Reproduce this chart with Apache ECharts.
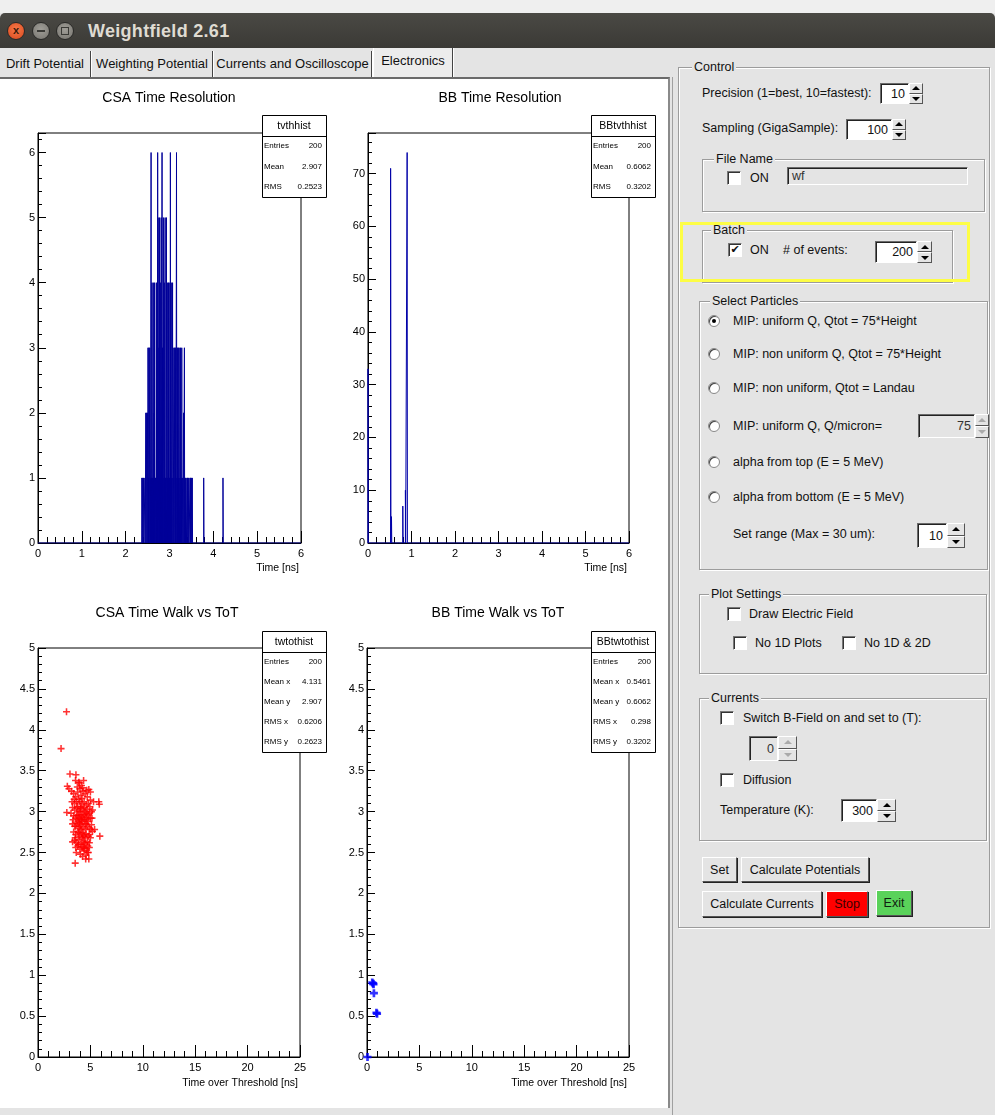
<!DOCTYPE html>
<html>
<head>
<meta charset="utf-8">
<title>Weightfield 2.61</title>
<script src="https://cdn.jsdelivr.net/npm/echarts@6/dist/echarts.min.js"></script>
<style>
  body { margin: 0; width: 995px; height: 1115px; position: relative; overflow: hidden;
         background: #e4e4e4; font-family: "Liberation Sans", Arial, sans-serif; font-size: 12.5px; color: #111; }
  div { box-sizing: border-box; }
  .abs { position: absolute; }
  .lbl { position: absolute; white-space: nowrap; line-height: 16px; height: 16px; }
  .grp { position: absolute; border: 1px solid #9c9c9c; box-shadow: inset 1px 1px 0 #fff, 1px 1px 0 #fff; }
  .leg { position: absolute; white-space: nowrap; line-height: 16px; height: 16px; background: #e4e4e4; padding: 0 2px; }
  .ent { position: absolute; background: #fff; border: 1px solid; border-color: #6a6a6a #fff #fff #6a6a6a;
         box-shadow: inset 1px 1px 0 #222; display: flex; align-items: center; justify-content: flex-end; padding-right: 3px; }
  .ent.off { background: #e4e4e4; color: #333; }
  .arr { position: absolute; }
  .arr div { position: absolute; left: 0; width: 100%; height: 50%; border: 1px solid; border-color: #fff #555 #555 #fff; background: #e4e4e4; }
  .arr .up { top: 0; } .arr .dn { top: 50%; }
  .arr .up::after, .arr .dn::after { content: ''; position: absolute; left: 50%; top: 50%; margin-left: -4px; margin-top: -2px;
         border-left: 4px solid transparent; border-right: 4px solid transparent; }
  .arr .up::after { border-bottom: 4px solid #000; }
  .arr .dn::after { border-top: 4px solid #000; }
  .arr.off .up::after { border-bottom-color: #aaa; }
  .arr.off .dn::after { border-top-color: #aaa; }
  .cb { position: absolute; width: 14px; height: 14px; background: #fff; border: 1px solid; border-color: #777 #fff #fff #777;
        box-shadow: inset 1px 1px 0 #333; font-family: "DejaVu Sans"; font-size: 11px; line-height: 12px; text-align: center; }
  .rd { position: absolute; width: 12px; height: 12px; border-radius: 50%; background: #fff; border: 1px solid #888; box-shadow: inset 1px 1px 0 #444; }
  .rd .dot { position: absolute; left: 3px; top: 3px; width: 4px; height: 4px; border-radius: 50%; background: #000; }
  .btn { position: absolute; border: 1px solid; border-color: #fff #555 #555 #fff; box-shadow: 1px 1px 0 #222; background: #e4e4e4;
         display: flex; align-items: center; justify-content: center; white-space: nowrap; }
  .tab { position: absolute; top: 51px; height: 26px; border-right: 1px solid #444; box-shadow: 1px 0 0 #fff;
         font-size: 13px; line-height: 26px; text-align: center; white-space: nowrap; }
  .tab.sel { top: 48px; height: 30px; background: #ececec; border-left: 1px solid #fff; line-height: 26px; }
</style>
</head>
<body>
<div class="abs" style="left:0;top:0;width:995px;height:13px;background:#efefef"></div>
<div class="abs" style="left:0;top:13px;width:995px;height:35px;background:linear-gradient(#4a4944,#3b3a36);border-radius:5px 5px 0 0"></div>
<div class="abs" style="left:7px;top:22px;width:18px;height:18px;border-radius:50%;background:radial-gradient(circle at 50% 40%,#f77a4a,#d9481d);border:1px solid #2a2a28;color:#3a1a0a;font-size:11px;line-height:15px;text-align:center;font-weight:bold">x</div>
<div class="abs" style="left:32px;top:22px;width:18px;height:18px;border-radius:50%;background:radial-gradient(circle at 50% 40%,#a09e98,#76746e);border:1px solid #2a2a28"></div>
<div class="abs" style="left:37px;top:30px;width:8px;height:2px;background:#3a3a36"></div>
<div class="abs" style="left:56px;top:22px;width:18px;height:18px;border-radius:50%;background:radial-gradient(circle at 50% 40%,#a09e98,#76746e);border:1px solid #2a2a28"></div>
<div class="abs" style="left:61px;top:27px;width:8px;height:8px;border:1px solid #3a3a36"></div>
<div class="lbl" style="left:88px;top:20px;height:22px;line-height:22px;font-weight:bold;font-size:18px;letter-spacing:0.3px;color:#dfdbd2">Weightfield 2.61</div>

<div class="tab" style="left:0;width:91px">Drift Potential</div>
<div class="tab" style="left:92px;width:121px">Weighting Potential</div>
<div class="tab" style="left:214px;width:158px">Currents and Oscilloscope</div>
<div class="tab sel" style="left:373px;width:80px">Electronics</div>

<div class="abs" style="left:0;top:77px;width:670px;height:1031px;background:#fff;border-top:2px solid #6a6a6a;border-right:2px solid #8a8a8a"></div>
<div class="abs" style="left:672px;top:77px;width:1px;height:1038px;background:#a0a0a0"></div>
<div id="plots" class="abs" style="left:0;top:0;width:668px;height:1108px"></div>

<script>
// ---- chart data ----
const FONT = '"Liberation Sans", Arial, sans-serif'
const spikeWidth = 0.006   // histogram bin width; times are sampled every 0.01 ns

// CSA time resolution: filled bins (time in ns, entries)
const csaTimes = [2.37, 2.39, 2.41, 2.44, 2.46, 2.48, 2.50, 2.51, 2.52, 2.53, 2.55, 2.56,
                  2.58, 2.59, 2.60, 2.61, 2.63, 2.64, 2.65, 2.66, 2.68, 2.69, 2.70, 2.71,
                  2.72, 2.73, 2.74, 2.76, 2.77, 2.78, 2.79, 2.80, 2.81, 2.83, 2.84, 2.86,
                  2.87, 2.88, 2.90, 2.91, 2.92, 2.93, 2.95, 2.96, 2.97, 2.98, 2.99, 3.00,
                  3.01, 3.02, 3.04, 3.05, 3.07, 3.08, 3.10, 3.12, 3.13, 3.14, 3.16, 3.17,
                  3.18, 3.20, 3.21, 3.22, 3.24, 3.25, 3.27, 3.28, 3.30, 3.32, 3.34, 3.35,
                  3.36, 3.38, 3.41, 3.42, 3.44, 3.47, 3.48, 3.50, 3.52, 3.78, 4.22]
const csaCounts = [1, 1, 1, 1, 2, 2, 2, 3, 1, 3, 3, 1,
                   6, 1, 4, 1, 4, 1, 2, 4, 1, 1, 4, 1,
                   1, 6, 5, 3, 5, 1, 4, 1, 5, 6, 3, 5,
                   1, 4, 5, 1, 1, 5, 1, 4, 1, 4, 1, 1,
                   4, 6, 4, 1, 4, 1, 3, 3, 1, 3, 6, 1,
                   3, 3, 1, 3, 1, 3, 1, 3, 1, 2, 3, 1,
                   1, 1, 1, 1, 1, 1, 1, 1, 1, 1, 1]

// BB time resolution: filled bins
const bbTimes = [0.00, 0.52, 0.54, 0.80, 0.86, 0.90]
const bbCounts = [33, 71, 5, 7, 10, 74]

// CSA time walk vs ToT: [time over threshold, time]
const csaWalk = [
  [2.72, 4.22], [2.2, 3.77], [2.75, 2.99], [3.55, 2.37], [5.8, 3.12], [5.85, 3.09], [5.9, 2.70], [4.85, 2.42],
  [3.05, 3.46], [3.62, 3.45], [3.58, 3.38], [3.9, 3.36], [2.8, 3.31], [2.95, 3.28], [3.2, 3.25], [4.25, 3.29],
  [4.85, 3.27], [5.0, 3.24], [5.3, 3.12], [5.4, 2.78], [5.2, 2.76], [3.3, 2.63], [4.6, 2.47], [4.75, 2.5],
  [4.4, 2.55], [4.9, 2.56],
  [3.4, 3.22], [3.6, 3.18], [3.8, 3.24], [4.0, 3.28], [4.1, 3.2], [4.3, 3.25], [4.5, 3.22], [4.7, 3.18],
  [3.5, 3.1], [3.7, 3.12], [3.9, 3.15], [4.2, 3.1], [4.4, 3.12], [4.6, 3.08], [4.8, 3.1], [5.0, 3.14],
  [3.3, 3.05], [3.5, 3.02], [3.7, 3.04], [3.9, 3.0], [4.1, 3.06], [4.3, 3.02], [4.5, 3.0], [4.7, 3.03],
  [4.9, 2.98], [5.1, 3.0], [3.4, 2.95], [3.6, 2.92], [3.8, 2.96], [4.0, 2.9], [4.2, 2.94], [4.4, 2.9],
  [4.6, 2.93], [4.8, 2.88], [5.0, 2.92], [3.3, 2.85], [3.5, 2.82], [3.7, 2.86], [3.9, 2.8], [4.1, 2.84],
  [4.3, 2.8], [4.5, 2.85], [4.7, 2.82], [4.9, 2.8], [5.1, 2.84], [3.4, 2.75], [3.6, 2.72], [3.8, 2.76],
  [4.0, 2.7], [4.2, 2.74], [4.4, 2.7], [4.6, 2.73], [4.8, 2.7], [5.0, 2.68], [3.5, 2.65], [3.7, 2.62],
  [3.9, 2.66], [4.1, 2.6], [4.3, 2.64], [4.5, 2.6], [4.7, 2.63], [4.9, 2.62], [3.6, 2.56], [3.8, 2.58],
  [4.0, 2.54], [4.2, 2.57], [4.4, 2.52], [4.6, 2.55], [4.8, 2.5],
  [4.0, 3.0], [4.1, 2.96], [4.2, 2.88], [4.3, 2.92], [4.0, 2.82], [4.1, 2.78], [4.2, 2.68], [4.3, 2.72],
  [3.9, 2.92], [3.8, 3.06], [4.4, 3.05], [4.5, 2.78], [4.6, 2.98], [4.2, 3.16], [4.0, 3.12], [3.8, 2.88],
  [3.7, 2.95], [4.5, 2.68], [4.4, 2.62], [4.3, 2.56], [3.9, 2.74], [3.6, 2.82], [4.7, 2.9], [4.8, 2.96],
  [4.6, 2.85], [4.9, 2.72], [5.05, 2.78], [3.45, 3.15], [3.35, 2.9], [3.55, 2.68], [3.75, 3.3], [3.95, 3.35],
  [4.15, 3.32], [4.05, 2.48], [4.25, 2.45], [4.55, 2.42], [4.65, 3.26], [4.35, 3.38], [3.85, 2.6], [3.65, 2.5],
  [4.75, 2.58], [5.15, 2.92], [5.2, 3.02], [3.25, 3.12], [3.15, 2.98], [4.95, 3.06], [4.45, 2.96], [4.15, 2.9],
  [3.95, 2.86], [4.05, 3.04]
]

// BB time walk vs ToT
const bbWalk = [[0.05, 0.0], [0.5, 0.91], [0.58, 0.9], [0.62, 0.89], [0.66, 0.78], [0.9, 0.54], [0.96, 0.53]]

// statistics boxes
const histStatLabels = ['Entries', 'Mean', 'RMS']
const csaStatValues = ['200', '2.907', '0.2523']
const bbStatValues = ['200', '0.6062', '0.3202']
const walkStatLabels = ['Entries', 'Mean x', 'Mean y', 'RMS x', 'RMS y']
const csaWalkStatValues = ['200', '4.131', '2.907', '0.6206', '0.2623']
const bbWalkStatValues = ['200', '0.5461', '0.6062', '0.298', '0.3202']

const PLUS = 'path://M3.5,0H5.5V3.5H9V5.5H5.5V9H3.5V5.5H0V3.5H3.5Z'
const BOLD_PLUS = 'path://M3,0H6V3H9V6H6V9H3V6H0V3H3Z'

// histogram outline as ROOT draws it: zero line everywhere, a step up/down on each filled bin
function stepData(times, counts, xmax) {
  let pts = [[0, 0]]
  for (let i = 0; i < times.length; i++) {
    pts.push([times[i], counts[i]])
    pts.push([times[i] + spikeWidth, 0])
  }
  pts.push([xmax, 0])
  return pts
}

function multipleOf(step) {
  return function (v) {
    let k = v / step
    return Math.abs(k - Math.round(k)) < 1e-6 ? String(+v.toFixed(3)) : ''
  }
}

function xAxisFor(grid, max, interval, name, namePad) {
  return {
    type: 'value', gridIndex: grid, min: 0, max: max, interval: interval,
    name: name, nameLocation: 'end', nameGap: -2,
    nameTextStyle: { fontFamily: FONT, fontSize: 10.5, color: '#000', align: 'right', verticalAlign: 'top', padding: [namePad, 0, 0, 0] },
    axisLine: { show: true, onZero: false, lineStyle: { color: '#000', width: 1 } },
    axisTick: { show: true, inside: true, length: 12, lineStyle: { color: '#000' } },
    minorTick: { show: true, splitNumber: 5, length: 6, lineStyle: { color: '#000' } },
    axisLabel: { color: '#000', fontSize: 11, margin: 5, fontFamily: FONT, formatter: multipleOf(interval) },
    splitLine: { show: false }
  }
}

function yAxisFor(grid, max, interval) {
  return {
    type: 'value', gridIndex: grid, min: 0, max: max, interval: interval,
    axisLine: { show: true, onZero: false, lineStyle: { color: '#000', width: 1 } },
    axisTick: { show: true, inside: true, length: 8, lineStyle: { color: '#000' } },
    minorTick: { show: true, splitNumber: 5, length: 4, lineStyle: { color: '#000' } },
    axisLabel: { color: '#000', fontSize: 11, margin: 3, fontFamily: FONT, formatter: multipleOf(interval) },
    splitLine: { show: false }
  }
}

function statBox(x, y, w, h, name, labels, values) {
  let titleH = 21
  let rowH = (h - titleH) / labels.length
  let children = [
    { type: 'rect', shape: { x: x + 0.5, y: y + 0.5, width: w, height: h }, style: { fill: '#fff', stroke: '#000', lineWidth: 1 } },
    { type: 'line', shape: { x1: x, y1: y + titleH + 0.5, x2: x + w, y2: y + titleH + 0.5 }, style: { stroke: '#000', lineWidth: 1 } },
    { type: 'text', style: { text: name, x: x + w / 2, y: y + titleH / 2 + 1, align: 'center', verticalAlign: 'middle', font: '10.5px ' + FONT, fill: '#000' } }
  ]
  labels.forEach(function (lab, i) {
    let cy = y + titleH + rowH * (i + 0.5)
    children.push({ type: 'text', style: { text: lab, x: x + 2, y: cy, align: 'left', verticalAlign: 'middle', font: '8px ' + FONT, fill: '#000' } })
    children.push({ type: 'text', style: { text: values[i], x: x + w - 4, y: cy, align: 'right', verticalAlign: 'middle', font: '8px ' + FONT, fill: '#000' } })
  })
  return { type: 'group', z: 100, children: children }
}

function titleAt(text, cx, top) {
  return { text: text, left: cx, top: top, textAlign: 'center', padding: 0,
           textStyle: { fontSize: 14, fontWeight: 'normal', color: '#000', fontFamily: FONT } }
}

const gridStyle = { show: true, borderColor: '#000', borderWidth: 1, backgroundColor: 'transparent', outerBoundsMode: 'none' }

let chart = echarts.init(document.getElementById('plots'))
chart.setOption({
  animation: false,
  title: [
    titleAt('CSA Time Resolution', 169, 91),
    titleAt('BB Time Resolution', 500, 91),
    titleAt('CSA Time Walk vs ToT', 167, 606),
    titleAt('BB Time Walk vs ToT', 498, 606)
  ],
  grid: [
    Object.assign({ left: 38, top: 133, width: 263, height: 410 }, gridStyle),
    Object.assign({ left: 368, top: 133, width: 261, height: 410 }, gridStyle),
    Object.assign({ left: 38, top: 648, width: 262, height: 409 }, gridStyle),
    Object.assign({ left: 367, top: 648, width: 262, height: 409 }, gridStyle)
  ],
  xAxis: [
    xAxisFor(0, 6, 1, 'Time [ns]', 20),
    xAxisFor(1, 6, 1, 'Time [ns]', 20),
    xAxisFor(2, 25, 5, 'Time over Threshold [ns]', 21),
    xAxisFor(3, 25, 5, 'Time over Threshold [ns]', 21)
  ],
  yAxis: [
    yAxisFor(0, 6.3, 1),
    yAxisFor(1, 77.7, 10),
    yAxisFor(2, 5, 0.5),
    yAxisFor(3, 5, 0.5)
  ],
  series: [
    { type: 'line', xAxisIndex: 0, yAxisIndex: 0, step: 'end', showSymbol: false, silent: true, z: 3,
      data: stepData(csaTimes, csaCounts, 6), lineStyle: { color: '#000099', width: 1 } },
    { type: 'line', xAxisIndex: 1, yAxisIndex: 1, step: 'end', showSymbol: false, silent: true, z: 3,
      data: stepData(bbTimes, bbCounts, 6), lineStyle: { color: '#0000a8', width: 1 } },
    { type: 'scatter', xAxisIndex: 2, yAxisIndex: 2, symbol: PLUS, symbolSize: 7, silent: true,
      data: csaWalk, itemStyle: { color: '#ff0000' } },
    { type: 'scatter', xAxisIndex: 3, yAxisIndex: 3, symbol: BOLD_PLUS, symbolSize: 8, silent: true,
      data: bbWalk, itemStyle: { color: '#0000ff' } }
  ],
  graphic: [
    statBox(262, 115, 64, 82, 'tvthhist', histStatLabels, csaStatValues),
    statBox(591, 115, 64, 82, 'BBtvthhist', histStatLabels, bbStatValues),
    statBox(262, 631, 64, 121, 'twtothist', walkStatLabels, csaWalkStatValues),
    statBox(591, 631, 64, 121, 'BBtwtothist', walkStatLabels, bbWalkStatValues)
  ]
})

// ---- control panel widgets ----
function el(cls, x, y, w, h, text) {
  let d = document.createElement('div')
  d.className = cls
  d.style.left = x + 'px'
  d.style.top = y + 'px'
  if (w != null) d.style.width = w + 'px'
  if (h != null) d.style.height = h + 'px'
  if (text != null) d.textContent = text
  document.body.appendChild(d)
  return d
}
function label(x, cy, text) { return el('lbl', x, cy - 8, null, null, text) }
function group(x, y, w, h, title, legX) {
  el('grp', x, y, w, h)
  el('leg', legX - 2, y - 8, null, null, title)
}
function spin(x, y, w, h, arrW, value, off) {
  el('ent' + (off ? ' off' : ''), x, y, w, h, value)
  let a = el('arr' + (off ? ' off' : ''), x + w, y, arrW, h)
  a.innerHTML = '<div class="up"></div><div class="dn"></div>'
}
function check(x, y, on) { el('cb', x, y, 14, 14, on ? '\u2714' : '') }
function radio(cx, cy, on) {
  let r = el('rd', cx - 6, cy - 6, 12, 12)
  if (on) r.innerHTML = '<div class="dot"></div>'
}
function button(x, y, w, h, text, bg, color) {
  let b = el('btn', x, y, w, h, text)
  if (bg) b.style.background = bg
  if (color) b.style.color = color
}

group(678, 67, 312, 861, 'Control', 694)
label(702, 93, 'Precision (1=best, 10=fastest):')
spin(880, 83, 29, 21, 14, '10')
label(702, 128, 'Sampling (GigaSample):')
spin(846, 119, 46, 21, 14, '100')

group(702, 159, 283, 53, 'File Name', 716)
check(727, 171, false)
label(750, 178, 'ON')
let fld = el('ent off', 787, 167, 181, 18, 'wf')
fld.style.justifyContent = 'flex-start'
fld.style.paddingLeft = '4px'

group(702, 230, 251, 53, 'Batch', 713)
check(728, 243, true)
label(750, 250, 'ON')
label(783, 250, '# of events:')
spin(875, 241, 42, 22, 15, '200')
let hl = el('abs', 680, 222, 290, 60)
hl.style.border = '3px solid #fdfd45'

group(699, 301, 289, 269, 'Select Particles', 712)
const particleOptions = ['MIP: uniform Q, Qtot = 75*Height', 'MIP: non uniform Q, Qtot = 75*Height',
  'MIP: non uniform, Qtot = Landau', 'MIP: uniform Q, Q/micron=', 'alpha from top (E = 5 MeV)', 'alpha from bottom (E = 5 MeV)']
const particleRows = [321, 354, 388, 426, 462, 497]
particleOptions.forEach(function (t, i) {
  radio(714, particleRows[i], i === 0)
  label(733, particleRows[i], t)
})
spin(918, 414, 57, 24, 14, '75', true)
label(733, 534, 'Set range (Max = 30 um):')
spin(917, 523, 30, 25, 18, '10')

group(699, 594, 288, 80, 'Plot Settings', 711)
check(727, 607, false)
label(749, 614, 'Draw Electric Field')
check(733, 636, false)
label(755, 643, 'No 1D Plots')
check(842, 636, false)
label(864, 643, 'No 1D & 2D')

group(699, 698, 288, 143, 'Currents', 711)
check(720, 711, false)
label(743, 718, 'Switch B-Field on and set to (T):')
spin(749, 736, 29, 25, 19, '0', true)
check(720, 773, false)
label(743, 780, 'Diffusion')
label(720, 810, 'Temperature (K):')
spin(841, 799, 36, 23, 19, '300')

button(702, 857, 35, 25, 'Set')
button(741, 857, 128, 25, 'Calculate Potentials')
button(702, 891, 120, 26, 'Calculate Currents')
button(826, 891, 42, 26, 'Stop', '#ff0000', '#3a0000')
button(876, 890, 36, 26, 'Exit', '#5ad25a', '#102010')
</script>
</body>
</html>
